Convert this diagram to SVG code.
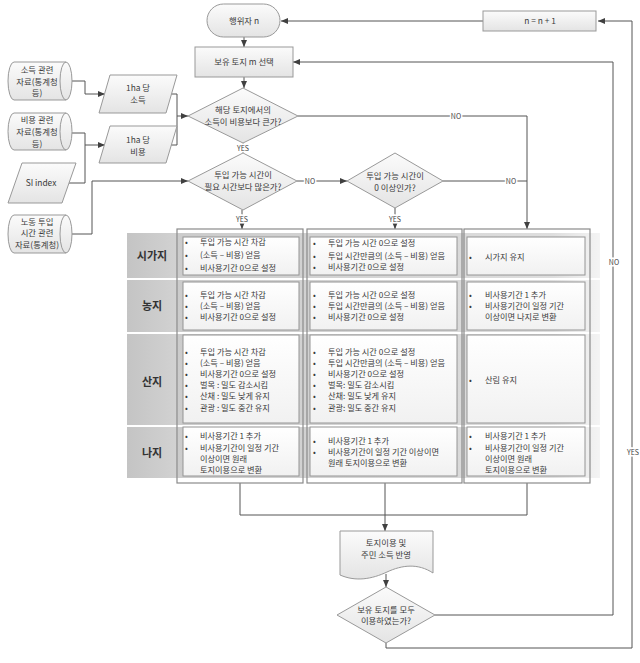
<svg xmlns="http://www.w3.org/2000/svg" width="640" height="663" viewBox="0 0 640 663">
<defs>
<linearGradient id="gShape" x1="0" y1="0" x2="0" y2="1"><stop offset="0" stop-color="#fbfbfb"/><stop offset="1" stop-color="#e4e4e4"/></linearGradient>
<linearGradient id="gCell" x1="0" y1="0" x2="0" y2="1"><stop offset="0" stop-color="#ffffff"/><stop offset="1" stop-color="#f1f1f1"/></linearGradient>
<linearGradient id="gBand" x1="0" y1="0" x2="1" y2="0"><stop offset="0" stop-color="#c9c9c9"/><stop offset="0.9" stop-color="#dedede"/><stop offset="1" stop-color="#f4f4f4"/></linearGradient>
<linearGradient id="gHead" x1="0" y1="0" x2="1" y2="0"><stop offset="0" stop-color="#c4c4c4"/><stop offset="1" stop-color="#d2d2d2"/></linearGradient>
<marker id="arr" markerWidth="7" markerHeight="6" refX="7" refY="3" orient="auto" markerUnits="userSpaceOnUse"><path d="M0,0 L7,3 L0,6 z" fill="#404040"/></marker>
</defs>
<style>
text{font-family:"Noto Sans CJK KR","Noto Sans",sans-serif;fill:#3a3a3a}
.t{font-size:8.4px;text-anchor:middle}
.c{font-size:8.2px}
.h{font-size:11px;font-weight:bold;text-anchor:middle;fill:#333}
.lb{font-size:7px;text-anchor:middle;stroke:#fff;stroke-width:3px;paint-order:stroke;fill:#444}
.sh{fill:url(#gShape);stroke:#999;stroke-width:1}
.cell{fill:url(#gCell);stroke:#949494;stroke-width:1}
.col{fill:none;stroke:#8a8a8a;stroke-width:1.2}
.ln{fill:none;stroke:#555;stroke-width:1}
.band{fill:url(#gBand)}
.head{fill:url(#gHead)}
</style>
<rect width="640" height="663" fill="#fff"/>

<!-- table background bands -->
<g id="bands">
<rect class="band" x="127" y="233" width="473" height="45"/>
<rect class="band" x="127" y="280" width="473" height="52"/>
<rect class="band" x="127" y="334" width="473" height="91"/>
<rect class="band" x="127" y="427" width="473" height="51"/>
<rect class="head" x="127" y="233" width="51" height="45"/>
<rect class="head" x="127" y="280" width="51" height="52"/>
<rect class="head" x="127" y="334" width="51" height="91"/>
<rect class="head" x="127" y="427" width="51" height="51"/>
<text class="h" x="152" y="260">시가지</text>
<text class="h" x="152" y="310">농지</text>
<text class="h" x="152" y="386">산지</text>
<text class="h" x="152" y="457">나지</text>
</g>

<!-- connectors -->
<g id="connectors">
<path class="ln" d="M244,37 V47" marker-end="url(#arr)"/>
<path class="ln" d="M244,77 V88" marker-end="url(#arr)"/>
<path class="ln" d="M243,143 V153" marker-end="url(#arr)"/>
<path class="ln" d="M242,210 V229" marker-end="url(#arr)"/>
<path class="ln" d="M297,181 H347" marker-end="url(#arr)"/>
<path class="ln" d="M395,208 V229" marker-end="url(#arr)"/>
<path class="ln" d="M443,181 H527"/>
<path class="ln" d="M298,116 H527 V229" marker-end="url(#arr)"/>
<path class="ln" d="M72,81 H85 V94 H105" marker-end="url(#arr)"/>
<path class="ln" d="M72,133 H85 V145 H105" marker-end="url(#arr)"/>
<path class="ln" d="M69,183 H85 V145"/>
<path class="ln" d="M171,94 H177 V145 H171"/>
<path class="ln" d="M177,116 H188" marker-end="url(#arr)"/>
<path class="ln" d="M72,234 H92 V181 H188" marker-end="url(#arr)"/>
<path class="ln" d="M240,483 V515 H527 V483"/>
<path class="ln" d="M385,483 V531" marker-end="url(#arr)"/>
<path class="ln" d="M386,574 V587" marker-end="url(#arr)"/>
<path class="ln" d="M435,615 H613 V62 H293" marker-end="url(#arr)"/>
<path class="ln" d="M386,643 V648 H632 V21 H598" marker-end="url(#arr)"/>
<path class="ln" d="M483,21 H281" marker-end="url(#arr)"/>
<text class="lb" x="243" y="151">YES</text>
<text class="lb" x="242" y="222">YES</text>
<text class="lb" x="395" y="222">YES</text>
<text class="lb" x="456" y="119">NO</text>
<text class="lb" x="310" y="184">NO</text>
<text class="lb" x="511" y="184">NO</text>
<text class="lb" x="614" y="265">NO</text>
<text class="lb" x="633" y="455">YES</text>
</g>

<!-- flow nodes -->
<g id="start">
<rect class="sh" x="207" y="4" width="73" height="33" rx="16.5"/>
<text class="t" x="244" y="24">행위자 n</text>
</g>
<g id="increment">
<rect class="sh" x="483" y="11" width="113" height="20"/>
<text class="t" x="540" y="24">n = n + 1</text>
</g>
<g id="select">
<rect class="sh" x="195" y="47" width="98" height="30"/>
<text class="t" x="244" y="65">보유 토지 m 선택</text>
</g>
<g id="d1">
<polygon class="sh" points="243,88 298,116 243,143 188,116"/>
<text class="t" x="243" y="113">해당 토지에서의</text>
<text class="t" x="243" y="125">소득이 비용보다 큰가?</text>
</g>
<g id="d2">
<polygon class="sh" points="243,153 297,181 243,210 188,181"/>
<text class="t" x="243" y="178">투입 가능 시간이</text>
<text class="t" x="243" y="190">필요 시간보다 많은가?</text>
</g>
<g id="d3">
<polygon class="sh" points="395,153 443,181 395,208 347,181"/>
<text class="t" x="395" y="179">투입 가능 시간이</text>
<text class="t" x="395" y="191">0 이상인가?</text>
</g>

<!-- inputs -->
<g id="cyl1">
<path class="sh" d="M14,62 H66 A6,19 0 0 1 66,100 H14 A6,19 0 0 1 14,62 Z"/>
<path class="ln" style="stroke:#999" d="M66,62 A6,19 0 0 0 66,100"/>
<text class="t" x="37" y="73">소득 관련</text>
<text class="t" x="37" y="85">자료(통계청</text>
<text class="t" x="37" y="96">등)</text>
</g>
<g id="cyl2">
<path class="sh" d="M14,113 H66 A6,18.5 0 0 1 66,150 H14 A6,18.5 0 0 1 14,113 Z"/>
<path class="ln" style="stroke:#999" d="M66,113 A6,18.5 0 0 0 66,150"/>
<text class="t" x="37" y="123">비용 관련</text>
<text class="t" x="37" y="135">자료(통계청</text>
<text class="t" x="37" y="147">등)</text>
</g>
<g id="si">
<polygon class="sh" points="22,163 76,163 62,203 8,203"/>
<text class="t" x="41" y="186">SI index</text>
</g>
<g id="cyl3">
<path class="sh" d="M14,215 H66 A6,19 0 0 1 66,253 H14 A6,19 0 0 1 14,215 Z"/>
<path class="ln" style="stroke:#999" d="M66,215 A6,19 0 0 0 66,253"/>
<text class="t" x="37" y="225">노동 투입</text>
<text class="t" x="37" y="236">시간 관련</text>
<text class="t" x="37" y="248">자료(통계청)</text>
</g>
<g id="p1">
<polygon class="sh" points="110,75 177,75 166,113 99,113"/>
<text class="t" x="138" y="91">1ha 당</text>
<text class="t" x="138" y="103">소득</text>
</g>
<g id="p2">
<polygon class="sh" points="110,126 177,126 166,163 99,163"/>
<text class="t" x="138" y="143">1ha 당</text>
<text class="t" x="138" y="155">비용</text>
</g>

<!-- column 1 -->
<g id="col1">
<rect class="col" x="177" y="229" width="126" height="254"/>
<rect class="cell" x="183" y="237" width="116" height="38"/>
<rect class="cell" x="183" y="282" width="116" height="48"/>
<rect class="cell" x="183" y="335" width="116" height="88"/>
<rect class="cell" x="183" y="427" width="116" height="49"/>
<g class="c">
<text x="185" y="245">•</text><text x="200" y="245">투입 가능 시간 차감</text>
<text x="185" y="258">•</text><text x="200" y="258">(소득 – 비용) 얻음</text>
<text x="185" y="271">•</text><text x="200" y="271">비사용기간 0으로 설정</text>
<text x="185" y="298">•</text><text x="200" y="298">투입 가능 시간 차감</text>
<text x="185" y="309">•</text><text x="200" y="309">(소득 – 비용) 얻음</text>
<text x="185" y="320">•</text><text x="200" y="320">비사용기간 0으로 설정</text>
<text x="185" y="355">•</text><text x="200" y="355">투입 가능 시간 차감</text>
<text x="185" y="366">•</text><text x="200" y="366">(소득 – 비용) 얻음</text>
<text x="185" y="377">•</text><text x="200" y="377">비사용기간 0으로 설정</text>
<text x="185" y="388">•</text><text x="200" y="388">벌목 : 밀도 감소시킴</text>
<text x="185" y="399">•</text><text x="200" y="399">산채 : 밀도 낮게 유지</text>
<text x="185" y="411">•</text><text x="200" y="411">관광 : 밀도 중간 유지</text>
<text x="185" y="439">•</text><text x="200" y="439">비사용기간 1 추가</text>
<text x="185" y="451">•</text><text x="200" y="451">비사용기간이 일정 기간</text>
<text x="200" y="462">이상이면 원래</text>
<text x="200" y="473">토지이용으로 변환</text>
</g>
</g>

<!-- column 2 -->
<g id="col2">
<rect class="col" x="307" y="229" width="155" height="254"/>
<rect class="cell" x="310" y="237" width="147" height="38"/>
<rect class="cell" x="310" y="282" width="147" height="48"/>
<rect class="cell" x="310" y="335" width="147" height="88"/>
<rect class="cell" x="310" y="427" width="147" height="49"/>
<g class="c">
<text x="313" y="246">•</text><text x="328" y="246">투입 가능 시간 0으로 설정</text>
<text x="313" y="259">•</text><text x="328" y="259">투입 시간만큼의 (소득 – 비용) 얻음</text>
<text x="313" y="270">•</text><text x="328" y="270">비사용기간 0으로 설정</text>
<text x="313" y="298">•</text><text x="328" y="298">투입 가능 시간 0으로 설정</text>
<text x="313" y="309">•</text><text x="328" y="309">투입 시간만큼의 (소득 – 비용) 얻음</text>
<text x="313" y="320">•</text><text x="328" y="320">비사용기간 0으로 설정</text>
<text x="313" y="355">•</text><text x="328" y="355">투입 가능 시간 0으로 설정</text>
<text x="313" y="366">•</text><text x="328" y="366">투입 시간만큼의 (소득 – 비용) 얻음</text>
<text x="313" y="377">•</text><text x="328" y="377">비사용기간 0으로 설정</text>
<text x="313" y="388">•</text><text x="328" y="388">벌목: 밀도 감소시킴</text>
<text x="313" y="399">•</text><text x="328" y="399">산채: 밀도 낮게 유지</text>
<text x="313" y="411">•</text><text x="328" y="411">관광: 밀도 중간 유지</text>
<text x="313" y="444">•</text><text x="328" y="444">비사용기간 1 추가</text>
<text x="313" y="455">•</text><text x="328" y="455">비사용기간이 일정 기간 이상이면</text>
<text x="328" y="466">원래 토지이용으로 변환</text>
</g>
</g>

<!-- column 3 -->
<g id="col3">
<rect class="col" x="464" y="229" width="126" height="254"/>
<rect class="cell" x="467" y="237" width="118" height="38"/>
<rect class="cell" x="467" y="282" width="118" height="48"/>
<rect class="cell" x="467" y="335" width="118" height="88"/>
<rect class="cell" x="467" y="427" width="118" height="49"/>
<g class="c">
<text x="469" y="260">•</text><text x="485" y="260">시가지 유지</text>
<text x="469" y="298">•</text><text x="485" y="298">비사용기간 1 추가</text>
<text x="469" y="309">•</text><text x="485" y="309">비사용기간이 일정 기간</text>
<text x="485" y="320">이상이면 나지로 변환</text>
<text x="469" y="383">•</text><text x="485" y="383">산림 유지</text>
<text x="469" y="439">•</text><text x="485" y="439">비사용기간 1 추가</text>
<text x="469" y="451">•</text><text x="485" y="451">비사용기간이 일정 기간</text>
<text x="485" y="462">이상이면 원래</text>
<text x="485" y="473">토지이용으로 변환</text>
</g>
</g>

<!-- output -->
<g id="doc">
<path class="sh" d="M340,531 H433 V573 C418,563 402,565 387,572 C372,579 356,582 340,575 Z"/>
<text class="t" x="386" y="546">토지이용 및</text>
<text class="t" x="386" y="558">주민 소득 반영</text>
</g>
<g id="d4">
<polygon class="sh" points="386,587 435,615 386,643 337,615"/>
<text class="t" x="386" y="613">보유 토지를 모두</text>
<text class="t" x="386" y="624">이용하였는가?</text>
</g>
</svg>
